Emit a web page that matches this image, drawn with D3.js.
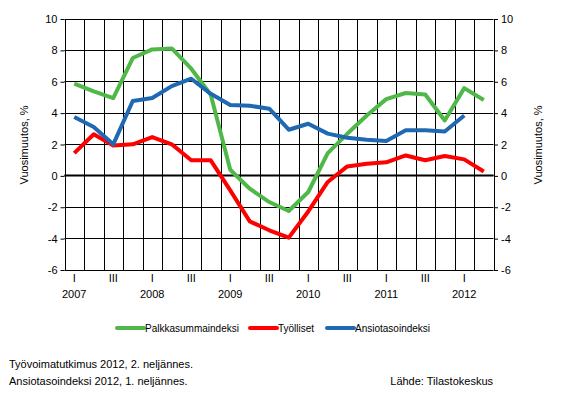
<!DOCTYPE html>
<html>
<head>
<meta charset="utf-8">
<script src="https://cdn.jsdelivr.net/npm/d3@7"></script>
<style>
  body { margin: 0; background: #fff; }
  svg { font-family: "Liberation Sans", Arial, sans-serif; }
</style>
</head>
<body>
<div id="chart"></div>
<script>
// quarters 2007 I .. 2012 II
var years = ["2007", "2008", "2009", "2010", "2011", "2012"];
var quarterNames = ["I", "II", "III", "IV"];
var quarters = [];
years.forEach(function(y) {
    quarterNames.forEach(function(q) { quarters.push(y + " " + q); });
});
quarters = quarters.slice(0, 22);

var palkkasumma = [5.85, 5.35, 4.93, 7.48, 8.03, 8.09, 6.8, 5.14, 0.36, -0.85, -1.7, -2.27,
                   -1.06, 1.42, 2.65, 3.82, 4.86, 5.25, 5.16, 3.5, 5.56, 4.8];
var tyolliset = [1.42, 2.62, 1.91, 1.98, 2.44, 1.98, 0.96, 0.96, -0.96, -2.93, -3.5, -3.97,
                 -2.3, -0.42, 0.57, 0.74, 0.83, 1.27, 0.96, 1.23, 1.02, 0.25];
var ansiotaso = [3.72, 3.08, 1.98, 4.74, 4.93, 5.69, 6.16, 5.2, 4.48, 4.44, 4.25, 2.91,
                 3.29, 2.66, 2.4, 2.27, 2.19, 2.87, 2.87, 2.8, 3.82, null];

var yTicks = [-6, -4, -2, 0, 2, 4, 6, 8, 10];

var series = [
    {name: "Palkkasummaindeksi", values: palkkasumma, color: "#50b848"},
    {name: "Työlliset", values: tyolliset, color: "#ff0000"},
    {name: "Ansiotasoindeksi", values: ansiotaso, color: "#1f69b3"}
];

var width = 561, height = 396;
// plot box
var pLeft = 64.5, pRight = 493.5, pTop = 18.5, pBottom = 269.5;

var svg = d3.select("#chart").append("svg")
    .attr("width", width)
    .attr("height", height);

var x = d3.scaleBand().domain(quarters).range([pLeft, pRight]);
var y = d3.scaleLinear().domain([-6, 10]).range([pBottom, pTop]);

var g = svg.append("g");

// horizontal grid
g.selectAll(".hgrid").data(yTicks).enter().append("line")
    .attr("x1", pLeft).attr("x2", pRight)
    .attr("y1", function(d) { return Math.round(y(d)) + 0.5; })
    .attr("y2", function(d) { return Math.round(y(d)) + 0.5; })
    .attr("stroke", "#000").attr("stroke-width", 1);

// vertical grid at quarter boundaries
var bounds = quarters.map(function(q) { return x(q); }).concat([pRight]);
g.selectAll(".vgrid").data(bounds).enter().append("line")
    .attr("x1", function(d) { return Math.round(d) + 0.5; })
    .attr("x2", function(d) { return Math.round(d) + 0.5; })
    .attr("y1", Math.round(pTop) + 0.5).attr("y2", Math.round(pBottom) + 0.5)
    .attr("stroke", "#000").attr("stroke-width", 1);

// zero line
g.append("line")
    .attr("x1", pLeft).attr("x2", pRight)
    .attr("y1", Math.round(y(0)) + 0.5).attr("y2", Math.round(y(0)) + 0.5)
    .attr("stroke", "#000").attr("stroke-width", 2);

// left and right axes, plain hyphen for minus
var fmt = function(d) { return String(d); };
var leftAxis = d3.axisLeft(y).tickValues(yTicks).tickFormat(fmt).tickSize(4).tickPadding(3);
var rightAxis = d3.axisRight(y).tickValues(yTicks).tickFormat(fmt).tickSize(4).tickPadding(3);

function styleAxis(sel) {
    sel.select(".domain").remove();
    sel.selectAll("text").attr("font-size", 11).attr("fill", "#000")
        .attr("font-family", "Liberation Sans, Arial, sans-serif");
    sel.selectAll("line").attr("stroke", "#000");
}

svg.append("g").attr("transform", "translate(" + pLeft + ",0.5)").call(leftAxis).call(styleAxis);
svg.append("g").attr("transform", "translate(" + (pRight + 0.5) + ",0.5)").call(rightAxis).call(styleAxis);

// x labels: I and III
var xl = svg.append("g").attr("font-size", 11).attr("text-anchor", "middle");
quarters.forEach(function(q) {
    var parts = q.split(" ");
    var cx = x(q) + x.bandwidth() / 2;
    if (parts[1] == "I" || parts[1] == "III") {
        xl.append("text").attr("x", cx).attr("y", 282).text(parts[1]);
    }
    if (parts[1] == "I") {
        xl.append("text").attr("x", cx).attr("y", 298).text(parts[0]);
    }
});

// series lines
var line = d3.line()
    .defined(function(d) { return d != null; })
    .x(function(d, i) { return x(quarters[i]) + x.bandwidth() / 2; })
    .y(function(d) { return y(d); });

series.forEach(function(s) {
    g.append("path")
        .attr("d", line(s.values))
        .attr("fill", "none")
        .attr("stroke", s.color)
        .attr("stroke-width", 4)
        .attr("stroke-linejoin", "round");
});

// axis titles
svg.append("text")
    .attr("transform", "translate(28,145) rotate(-90)")
    .attr("text-anchor", "middle").attr("font-size", 11)
    .text("Vuosimuutos, %");
svg.append("text")
    .attr("transform", "translate(542,145) rotate(-90)")
    .attr("text-anchor", "middle").attr("font-size", 11)
    .text("Vuosimuutos, %");

// legend
var legendX = [117, 250, 327];
var legend = svg.append("g").attr("font-size", 10);
series.forEach(function(s, i) {
    legend.append("line")
        .attr("x1", legendX[i]).attr("x2", legendX[i] + 27)
        .attr("y1", 328).attr("y2", 328)
        .attr("stroke", s.color).attr("stroke-width", 4)
        .attr("stroke-linecap", "round");
    legend.append("text")
        .attr("x", legendX[i] + 28).attr("y", 332)
        .text(s.name);
});

// footer
var foot = svg.append("g").attr("font-size", 11);
foot.append("text").attr("x", 9).attr("y", 368).text("Työvoimatutkimus 2012, 2. neljännes.");
foot.append("text").attr("x", 9).attr("y", 385).text("Ansiotasoindeksi 2012, 1. neljännes.");
foot.append("text").attr("x", 493).attr("y", 385).attr("text-anchor", "end").text("Lähde: Tilastokeskus");
</script>
</body>
</html>
